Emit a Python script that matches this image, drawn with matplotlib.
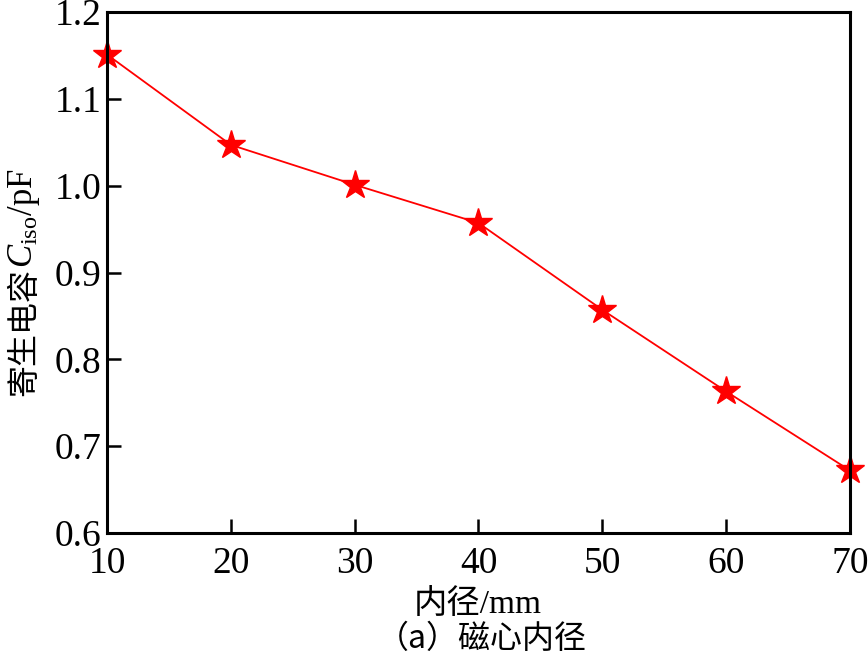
import matplotlib.pyplot as plt

# 磁心内径 vs 寄生电容
inner_diameter = [10, 20, 30, 40, 50, 60, 70]
capacitance = [1.151, 1.047, 1.001, 0.957, 0.857, 0.763, 0.672]
x_ticks = [10, 20, 30, 40, 50, 60, 70]
y_ticks = [0.6, 0.7, 0.8, 0.9, 1.0, 1.1, 1.2]

plt.rcParams['font.family'] = ['Liberation Serif', 'Noto Sans CJK SC']
plt.rcParams['mathtext.fontset'] = 'custom'
plt.rcParams['mathtext.rm'] = 'Liberation Serif'
plt.rcParams['mathtext.it'] = 'Liberation Serif:italic'

W, H = 868, 661
fig = plt.figure(figsize=(W / 100, H / 100), dpi=100)
ax = fig.add_axes([107 / W, 1 - 533 / H, 743 / W, 521 / H])

ax.plot(inner_diameter, capacitance, color='red', lw=1.3, marker='*',
        markersize=21, markerfacecolor='red', markeredgecolor='red', clip_on=False)

ax.set_xlim(10, 70)
ax.set_ylim(0.6, 1.2)
ax.set_xticks(x_ticks)
ax.set_yticks(y_ticks)
ax.set_yticklabels(['%.1f' % v for v in y_ticks])
ax.tick_params(direction='in', length=10, width=1.8, labelsize=27,
               top=False, right=False)
ax.tick_params(axis='x', pad=10)
ax.tick_params(axis='y', pad=4)
for s in ax.spines.values():
    s.set_linewidth(2.2)

# y 轴标签：中文 + 数学文字分两段拼接
lx = 24 / W
t1 = fig.text(lx, 0, '寄生电容', rotation=90, ha='center', va='bottom',
              fontsize=23, family='Noto Sans CJK SC')
t2 = fig.text(lx, 0, r'$C_{\rm iso}$/pF', rotation=90, ha='center', va='bottom',
              fontsize=25)
fig.canvas.draw()
h1 = t1.get_window_extent().height
h2 = t2.get_window_extent().height
y_bottom = (H - 282) - (h1 + h2) / 2
t1.set_y(y_bottom / H)
t2.set_y((y_bottom + h1) / H)

fig.text(478 / W, 1 - 604 / H, '内径/mm', fontsize=24, ha='center', va='center')
fig.text(482 / W, 1 - 639 / H, '（a）磁心内径', fontsize=23,
         ha='center', va='center', family='Noto Sans CJK SC')

fig.savefig('out.png', dpi=100)
